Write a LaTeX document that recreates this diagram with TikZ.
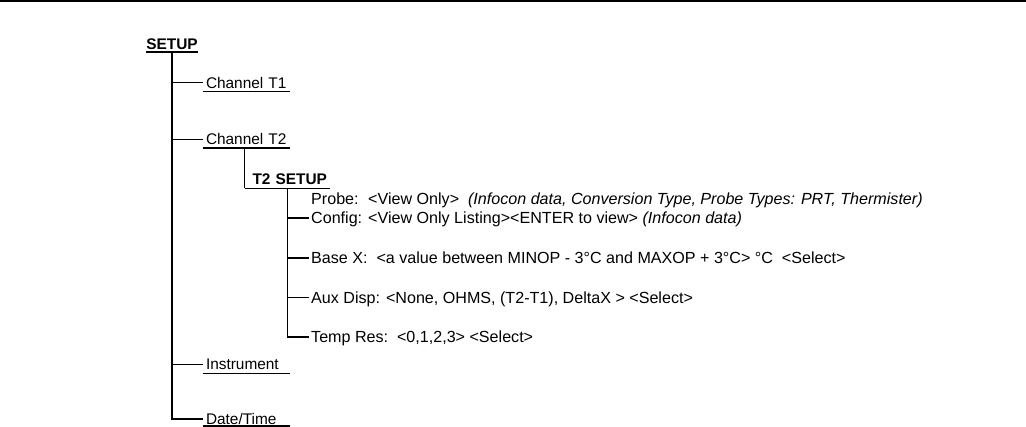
\documentclass[tikz,border=0pt]{standalone}
\usepackage{fontspec}
\setmainfont{Liberation Sans}
\usepackage{tikz}
\usetikzlibrary{positioning}

\begin{document}
\begin{tikzpicture}[x=1pt,y=-1pt,
    font=\fontsize{15.4}{18}\selectfont,
    bar/.style={line width=1.8pt},
    hair/.style={line width=1pt},
    head/.style={inner xsep=3pt,inner ysep=3.5pt,text height=11pt,text depth=0pt,text width=81pt,align=left},
    leaf/.style={anchor=west,inner xsep=2pt,inner ysep=0pt,text height=11pt,text depth=0pt,font=\fontsize{16.1}{18}\selectfont}]
    \useasboundingbox (0,0) rectangle (1026,426);
    \draw[bar] (0,1) -- (1026,1);
    % top level
    \node [inner xsep=0pt,inner ysep=2.5pt,text height=11pt,text depth=0pt] (setup) at (172,43.5) {\textbf{SETUP}};
    \node [head] (ch1) at (246.5,82.5) {Channel T1};
    \node [head] (ch2) at (246.5,139) {Channel T2};
    \node [head] (inst) at (246.5,364) {Instrument};
    \node [head,inner ysep=1pt] (dt) at (246.5,419) {Date/Time};
    \draw[bar] (setup.south west) -- (setup.south east);
    \draw[hair] (ch1.south west) -- (ch1.south east);
    \draw[bar] (ch2.south west) -- (ch2.south east);
    \draw[hair] (inst.south west) -- (inst.south east);
    \draw[bar] (dt.south west) -- (dt.south east);
    \draw[bar] (setup.south) |- (dt.west);
    \draw[bar] (setup.south |- ch1.west) -- (ch1.west);
    \draw[hair] (setup.south |- ch2.west) -- (ch2.west);
    \draw[hair] (setup.south |- inst.west) -- (inst.west);
    % T2 setup
    \node [head,inner ysep=4pt,text width=79pt,align=right] (t2) at (287.5,178.5) {\textbf{T2 SETUP}};
    \draw[hair] (t2.south west) -- (t2.south east);
    \draw[hair] (ch2.south -| t2.south west) -- (t2.south west);
    \node [leaf] (probe) at (309,198.5) {\makebox[57pt][l]{Probe:}<View Only>\ \ \textit{(Infocon data, Conversion Type, Probe Types: PRT, Thermister)}};
    \node [leaf] (config) at (309,218) {\makebox[57pt][l]{Config:}<View Only Listing><ENTER to view> \textit{(Infocon data)}};
    \node [leaf] (base) at (309,258) {Base X:\ \ <a value between MINOP - 3°C and MAXOP + 3°C> °C\ \ <Select>};
    \node [leaf] (aux) at (309,297.5) {Aux Disp: <None, OHMS, (T2-T1), DeltaX > <Select>};
    \node [leaf] (temp) at (309,337) {Temp Res:\ \ <0,1,2,3> <Select>};
    \draw[bar] (t2.south) |- (temp.west);
    \draw[bar] (t2.south |- config.west) -- (config.west);
    \draw[bar] (t2.south |- base.west) -- (base.west);
    \draw[hair] (t2.south |- aux.west) -- (aux.west);
\end{tikzpicture}
\end{document}
